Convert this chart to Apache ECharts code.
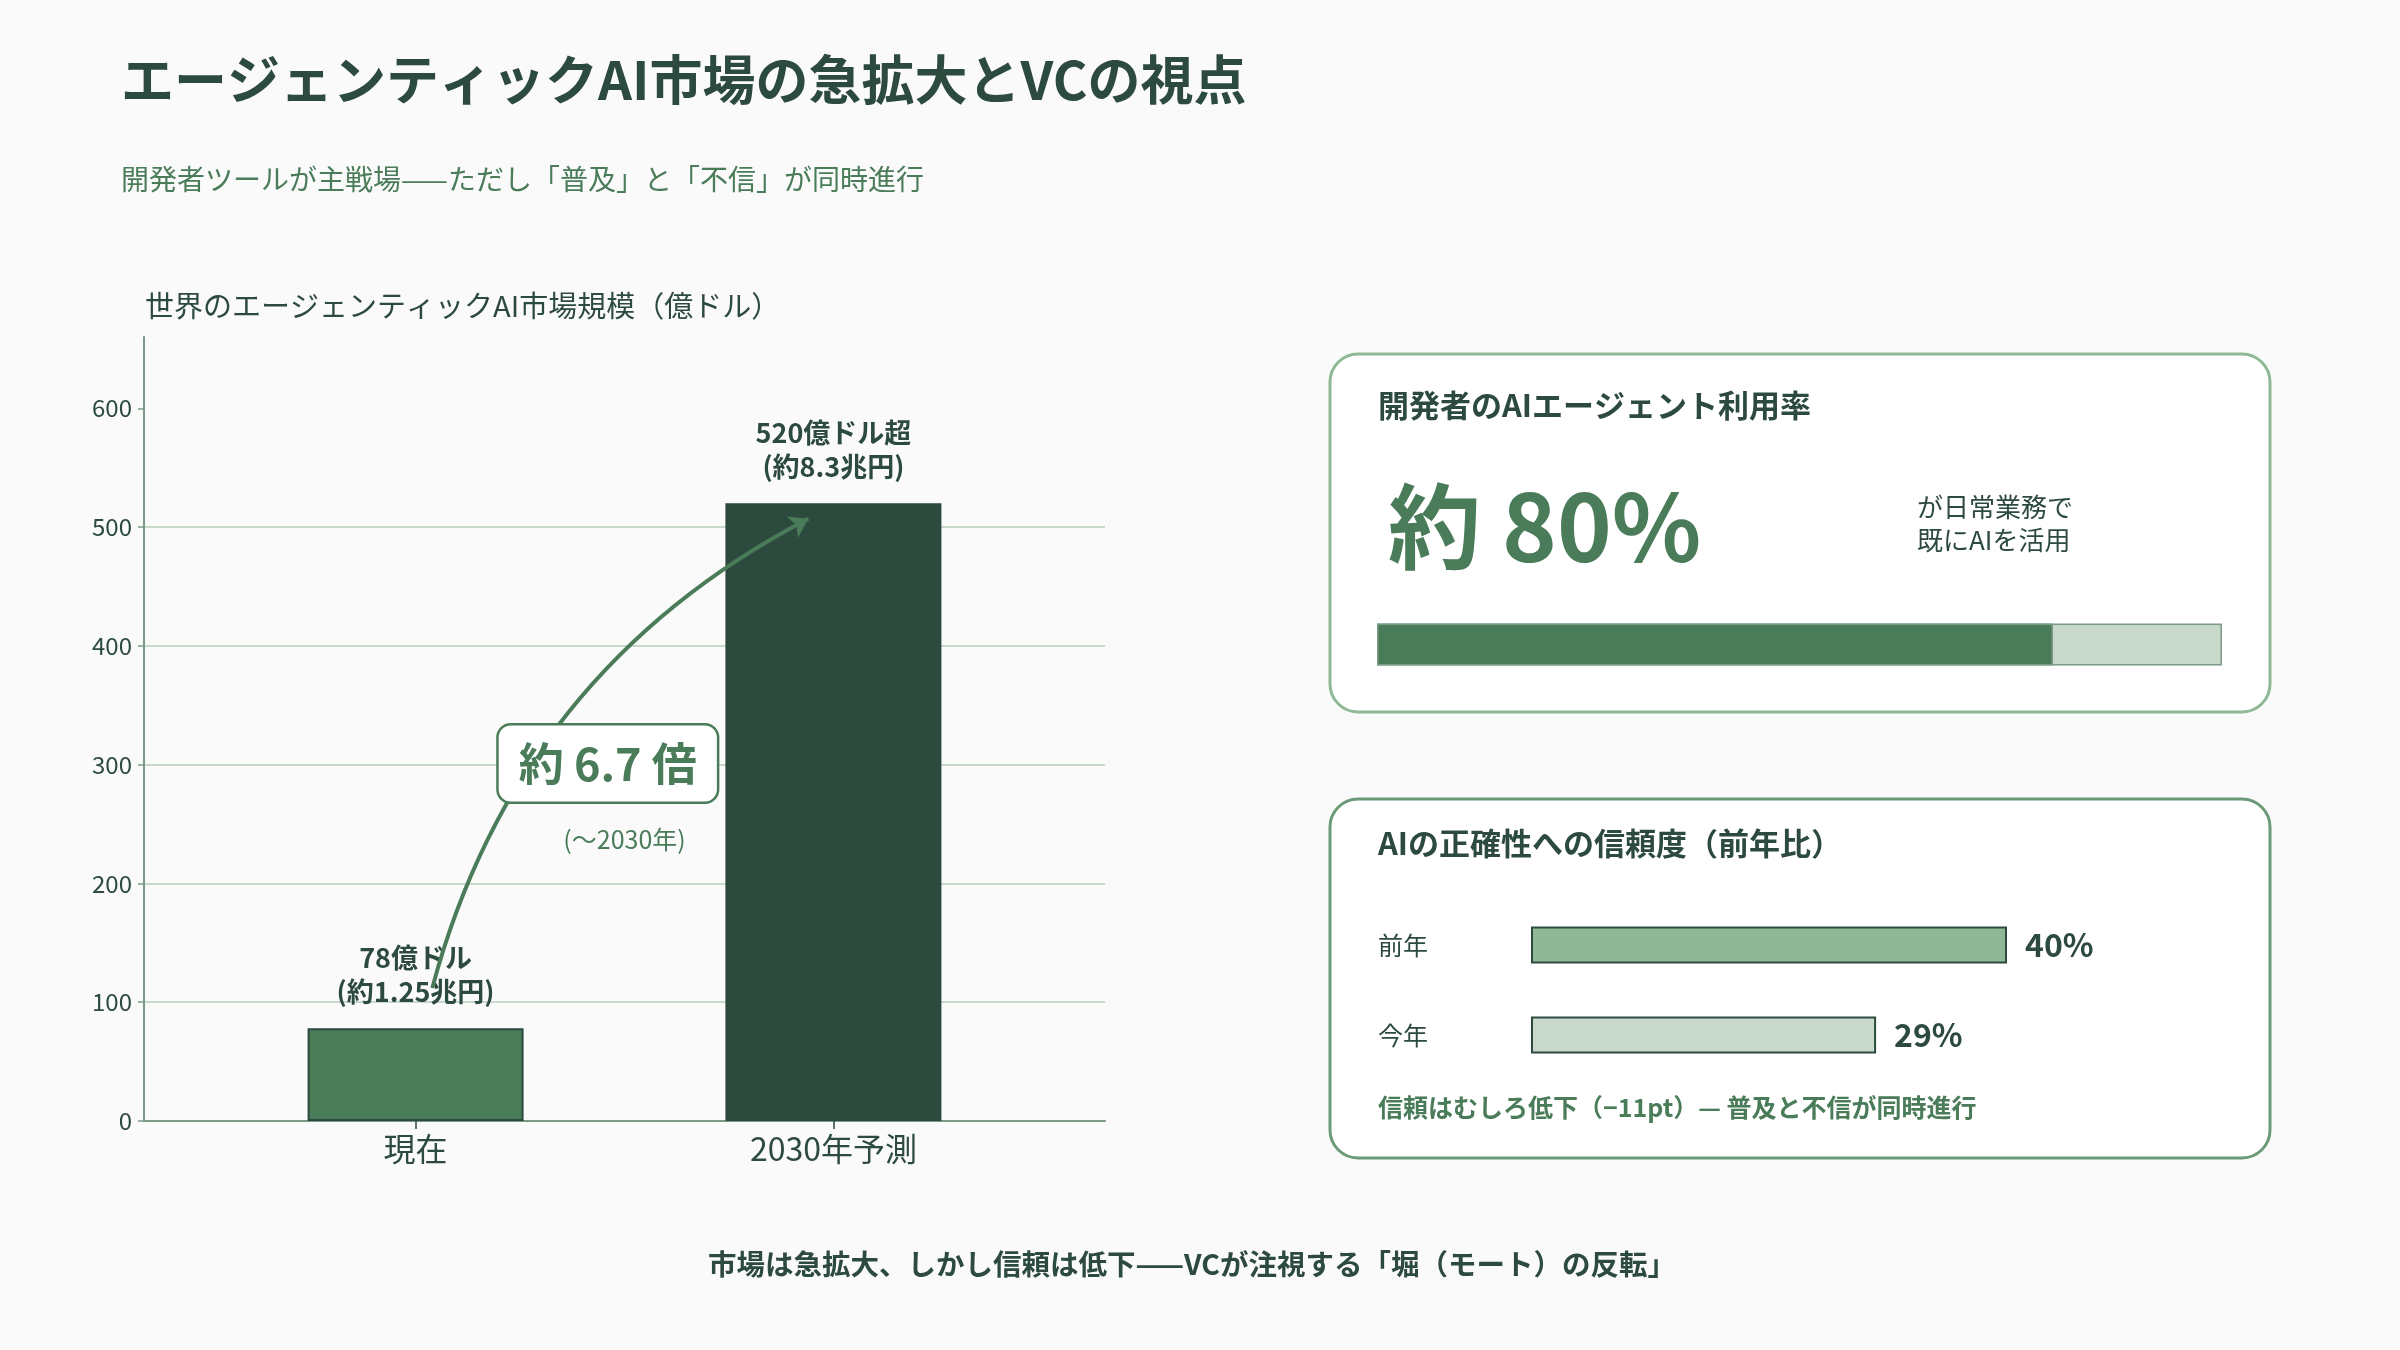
<!DOCTYPE html>
<html>
<head>
<meta charset="utf-8">
<script src="https://cdn.jsdelivr.net/npm/echarts@6/dist/echarts.min.js"></script>
<style>
html,body{margin:0;padding:0;background:#fafafa;}
#c{width:2400px;height:1350px;}
</style>
</head>
<body>
<div id="c"></div>
<script>
// ---- data ----
const categories = ['現在', '2030年予測'];
const marketValues = [78, 520];
const barLabels = ['78億ドル\n(約1.25兆円)', '520億ドル超\n(約8.3兆円)'];
const yTicks = [0, 100, 200, 300, 400, 500, 600];
const growthLabel = '約 6.7 倍';
const growthSub = '(～2030年)';
const growthLabelPos = [0.46, 301];
const growthSubPos = [0.5, 237];
const arrowFrom = [0.04, 112];
const arrowTo = [0.94, 507];
const usageRate = 80;
const usageTotal = 100;
const trustCategories = ['前年', '今年'];
const trustValues = [40, 29];

const FONT = '"Noto Sans CJK JP", "Noto Sans", sans-serif';
const DARK = '#2d4a3e';
const GREEN = '#4a7c59';
const LIGHT = '#c8d9cc';
const MID = '#8fb996';
const AXIS = '#7a9a85';

const chart = echarts.init(document.getElementById('c'), null, {renderer: 'canvas'});

const option = {
  backgroundColor: '#fafafa',
  animation: false,
  textStyle: {fontFamily: FONT},
  graphic: [
    {type: 'rect', shape: {x: 1330, y: 354, width: 940, height: 358, r: 28}, style: {fill: '#ffffff', stroke: MID, lineWidth: 3}, z: -10},
    {type: 'rect', shape: {x: 1330, y: 799, width: 940, height: 359, r: 28}, style: {fill: '#ffffff', stroke: '#6b9a78', lineWidth: 3}, z: -10},
    {type: 'text', x: 121, y: 80, style: {text: 'エージェンティックAI市場の急拡大とVCの視点', font: 'bold 53px ' + FONT, fill: DARK, textVerticalAlign: 'middle'}},
    {type: 'text', x: 121, y: 179, style: {text: '開発者ツールが主戦場——ただし「普及」と「不信」が同時進行', font: '28px ' + FONT, fill: GREEN, textVerticalAlign: 'middle'}},
    {type: 'text', x: 145, y: 306, style: {text: '世界のエージェンティックAI市場規模（億ドル）', font: '29px ' + FONT, fill: DARK, textVerticalAlign: 'middle'}},
    {type: 'text', x: 1378, y: 405, style: {text: '開発者のAIエージェント利用率', font: 'bold 31px ' + FONT, fill: DARK, textVerticalAlign: 'middle'}},
    {type: 'text', x: 1388, y: 527, style: {text: '約 ' + usageRate + '%', font: 'bold 93px ' + FONT, fill: GREEN, textVerticalAlign: 'middle'}},
    {type: 'text', x: 1917, y: 524, style: {text: 'が日常業務で\n既にAIを活用', font: '26px ' + FONT, fill: DARK, lineHeight: 33, textVerticalAlign: 'middle'}},
    {type: 'text', x: 1378, y: 843, style: {text: 'AIの正確性への信頼度（前年比）', font: 'bold 31px ' + FONT, fill: DARK, textVerticalAlign: 'middle'}},
    {type: 'text', x: 1378, y: 1107, style: {text: '信頼はむしろ低下（−' + (trustValues[0] - trustValues[1]) + 'pt）— 普及と不信が同時進行', font: 'bold 25px ' + FONT, fill: GREEN, textVerticalAlign: 'middle'}},
    {type: 'text', x: 1192, y: 1264, style: {text: '市場は急拡大、しかし信頼は低下——VCが注視する「堀（モート）の反転」', font: 'bold 28.5px ' + FONT, fill: DARK, textAlign: 'center', textVerticalAlign: 'middle'}}
  ],
  grid: [
    {left: 144, right: 1295, top: 337, bottom: 229},
    {left: 1377, width: 845, top: 623, height: 43},
    {left: 1531, width: 595, top: 900, height: 180}
  ],
  xAxis: [
    {
      type: 'value', gridIndex: 0, min: -0.65, max: 1.65,
      axisLine: {show: true, onZero: false, lineStyle: {color: AXIS, width: 2}},
      axisTick: {show: true, customValues: [0, 1], length: 8, lineStyle: {color: DARK, width: 1.5}},
      axisLabel: {customValues: [0, 1], formatter: v => categories[Math.round(v)] || '', fontSize: 32, color: DARK, margin: 12, fontFamily: FONT},
      splitLine: {show: false}
    },
    {type: 'value', gridIndex: 1, min: 0, max: usageTotal, show: false},
    {type: 'value', gridIndex: 2, min: 0, max: 50, show: false}
  ],
  yAxis: [
    {
      type: 'value', gridIndex: 0, min: 0, max: 660, interval: 100,
      axisLine: {show: true, onZero: false, lineStyle: {color: AXIS, width: 2}},
      axisTick: {show: true, customValues: yTicks, length: 6, lineStyle: {color: AXIS, width: 1.5}},
      axisLabel: {customValues: yTicks, fontSize: 24, color: DARK, margin: 12, fontFamily: FONT},
      splitLine: {show: true, showMinLine: false, showMaxLine: false, lineStyle: {color: LIGHT, width: 2}}
    },
    {type: 'category', gridIndex: 1, data: ['利用率'], show: false},
    {
      type: 'category', gridIndex: 2, data: trustCategories, inverse: true,
      axisLine: {show: false}, axisTick: {show: false}, splitLine: {show: false},
      axisLabel: {align: 'left', margin: 153, fontSize: 25, color: DARK, fontFamily: FONT}
    }
  ],
  series: [
    {
      type: 'bar', xAxisIndex: 0, yAxisIndex: 0, barWidth: 216, z: 2,
      data: marketValues.map((v, i) => ({
        value: [i, v],
        itemStyle: i === 0 ? {color: GREEN, borderColor: DARK, borderWidth: 2} : {color: DARK, borderColor: DARK, borderWidth: 2},
        label: {formatter: barLabels[i]}
      })),
      label: {show: true, position: 'top', distance: 20, fontSize: 27, fontWeight: 'bold', color: DARK, lineHeight: 34, align: 'center', fontFamily: FONT},
      markPoint: {
        symbol: 'rect', symbolSize: 1, itemStyle: {color: 'rgba(0,0,0,0)'},
        z: 10,
        data: [
          {coord: growthLabelPos, label: {show: true, position: 'inside', formatter: growthLabel, fontSize: 45, fontWeight: 'bold', color: GREEN, lineHeight: 46, backgroundColor: '#ffffff', borderColor: GREEN, borderWidth: 2.5, borderRadius: 12, padding: [15, 20], fontFamily: FONT}},
          {coord: growthSubPos, label: {show: true, position: 'inside', formatter: growthSub, fontSize: 25, color: GREEN, fontFamily: FONT}}
        ]
      }
    },
    {
      type: 'lines', coordinateSystem: 'cartesian2d', xAxisIndex: 0, yAxisIndex: 0, z: 5,
      symbol: ['none', 'arrow'], symbolSize: 18,
      lineStyle: {color: GREEN, width: 4, curveness: 0.22, opacity: 1},
      data: [{coords: [arrowFrom, arrowTo]}]
    },
    {
      type: 'bar', xAxisIndex: 1, yAxisIndex: 1, barWidth: 42, barGap: '-100%', silent: true,
      data: [usageTotal], itemStyle: {color: LIGHT, borderColor: AXIS, borderWidth: 1.5}
    },
    {
      type: 'bar', xAxisIndex: 1, yAxisIndex: 1, barWidth: 42, barGap: '-100%', z: 3,
      data: [usageRate], itemStyle: {color: GREEN, borderColor: AXIS, borderWidth: 1.5}
    },
    {
      type: 'bar', xAxisIndex: 2, yAxisIndex: 2, barWidth: 37,
      data: trustValues.map((v, i) => ({value: v, itemStyle: {color: i === 0 ? MID : LIGHT, borderColor: DARK, borderWidth: 2}})),
      label: {show: true, position: 'right', distance: 18, formatter: '{c}%', fontSize: 32, fontWeight: 'bold', color: DARK, fontFamily: FONT}
    }
  ]
};
chart.setOption(option);
</script>
</body>
</html>
